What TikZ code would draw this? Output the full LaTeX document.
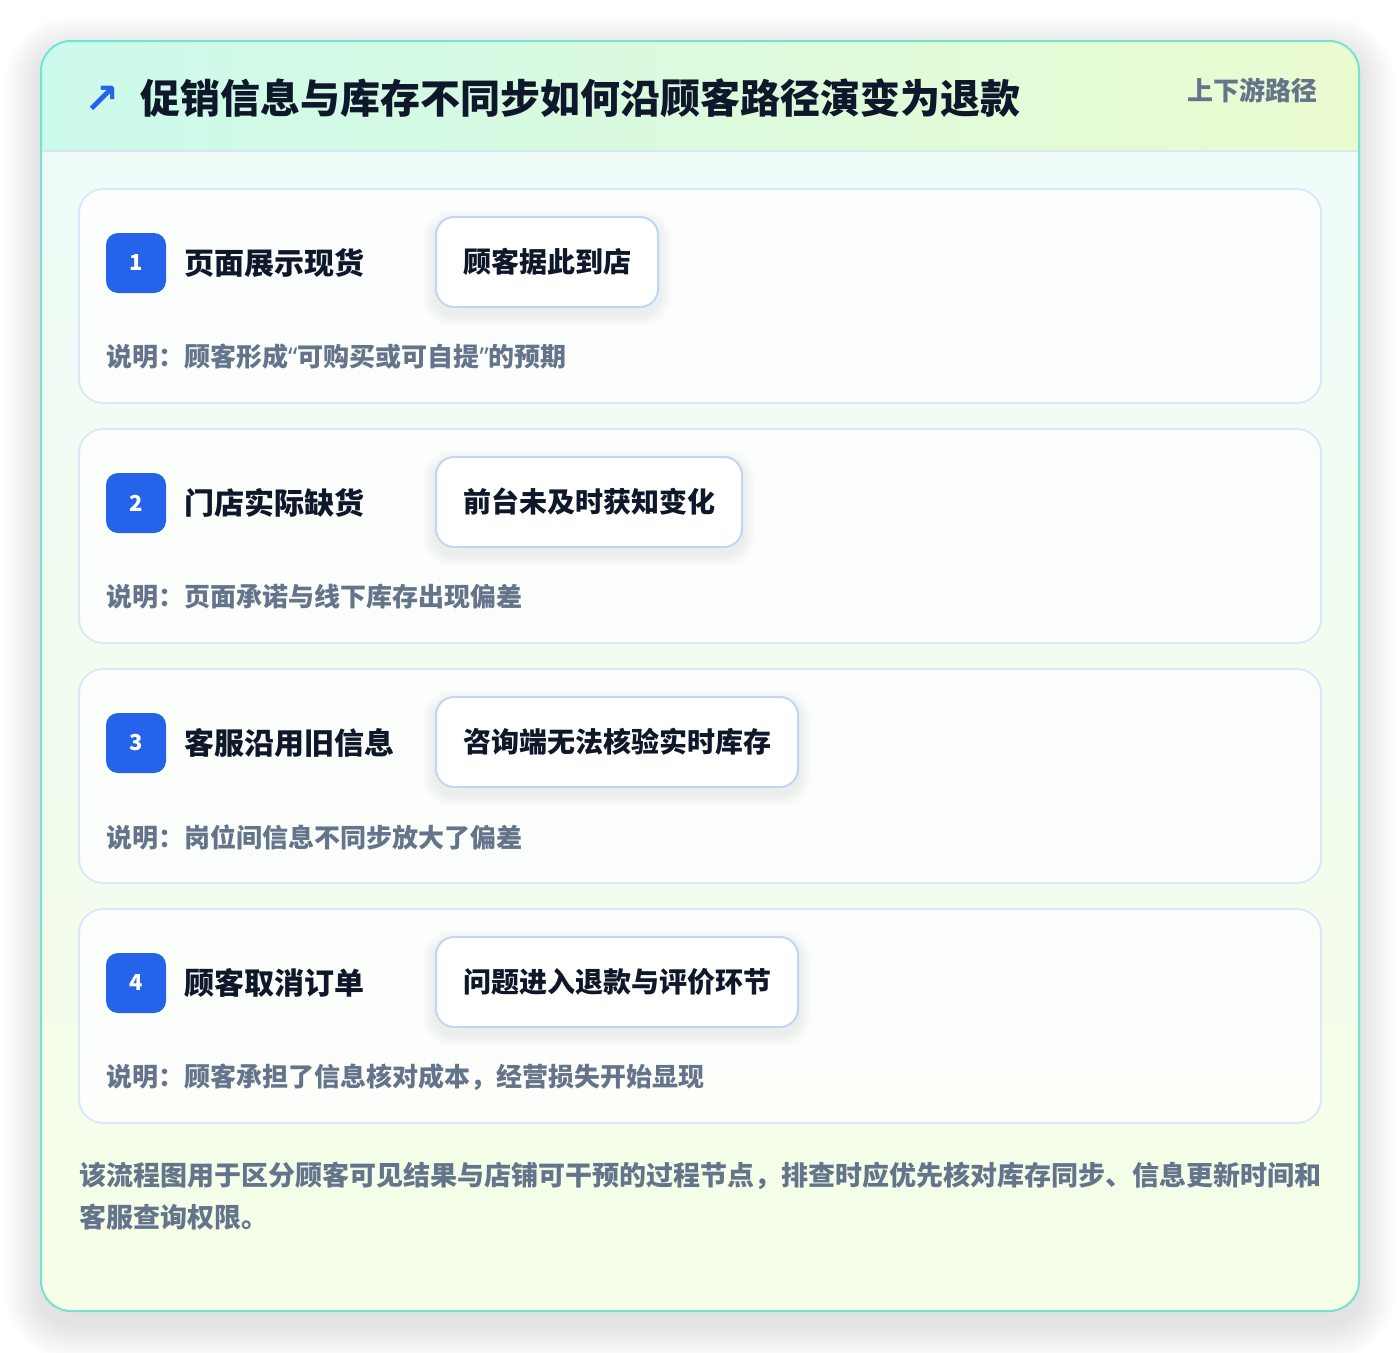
\documentclass[tikz,border=0pt]{standalone}
\usepackage{fontspec}
\setmainfont{Noto Sans CJK SC}
\newfontfamily\dejavu{DejaVu Sans}
\newfontfamily\latinfont{Noto Sans}
\newcommand{\myopenq}{{\latinfont “}}
\newcommand{\myclosq}{{\latinfont ”}}
\definecolor{outerborder}{HTML}{74E4D0}
\definecolor{headerL}{HTML}{CCFAEC}
\definecolor{headerR}{HTML}{EBFBD0}
\definecolor{bodyTop}{HTML}{EFFCF8}
\definecolor{bodyBot}{HTML}{F6FEE7}
\definecolor{headerline}{HTML}{D5E8F3}
\definecolor{cardborder}{HTML}{DBE9FA}
\definecolor{pillborder}{HTML}{BFD6F4}
\definecolor{badgeblue}{HTML}{2563EB}
\definecolor{inkdark}{HTML}{0F172A}
\definecolor{inkgray}{HTML}{64748B}
\tikzset{
  stepcard/.style={draw=cardborder, line width=2pt, fill=white, fill opacity=0.8, draw opacity=1,
    rounded corners=24pt, minimum width=1242pt, minimum height=214pt, inner sep=0pt},
  badge/.style={fill=badgeblue, rounded corners=12pt, minimum width=60pt, minimum height=60pt,
    inner sep=0pt, text=white, font=\fontsize{22}{26}\selectfont\bfseries},
  steptitle/.style={inner sep=0pt, text=inkdark, font=\fontsize{30}{36}\selectfont\bfseries},
  pillbase/.style={line width=2pt, rounded corners=18pt,
    minimum height=90pt, inner xsep=27pt, inner ysep=0pt,
    font=\fontsize{28}{34}\selectfont\bfseries},
  pill/.style={pillbase, draw=pillborder, fill=white, text=inkdark},
  pillghost/.style={pillbase, draw=none, fill=none, text opacity=0},
  notetext/.style={inner sep=0pt, text=inkgray, font=\fontsize{26}{30}\selectfont\bfseries},
}
\begin{document}
\begin{tikzpicture}[x=1pt,y=-1pt]
\useasboundingbox[fill=white] (0,0) rectangle (1400,1352);
% outer card soft shadow
\foreach \k in {1,...,14}{
  \fill[black, opacity=0.0085, rounded corners={30pt+\k*2.6pt}]
    ({41-\k*2.6},{41-\k*2.6+12}) rectangle ({1359+\k*2.6},{1311+\k*2.6+12});
}
\fill[white, rounded corners=30pt] (41,41) rectangle (1359,1311);
\begin{scope}
  \clip[rounded corners=30pt] (41,41) rectangle (1359,1311);
  \shade[top color=bodyTop, bottom color=bodyBot] (41,151) rectangle (1359,1311);
  \shade[left color=headerL, right color=headerR] (41,41) rectangle (1359,151);
  \draw[headerline, line width=1.5pt] (41,151) -- (1359,151);
\end{scope}
\draw[outerborder, line width=2pt, rounded corners=30pt] (41,41) rectangle (1359,1311);
% header
\node[inner sep=0pt, text=badgeblue, font=\fontsize{42}{46}\selectfont\dejavu\bfseries] (icon) at (102,100) {↗};
\node[anchor=west, inner sep=0pt, text=inkdark, font=\fontsize{40}{48}\selectfont\bfseries] (title) at (140,98)
  {促销信息与库存不同步如何沿顾客路径演变为退款};
\node[anchor=east, inner sep=0pt, text=inkgray, font=\fontsize{26}{30}\selectfont\bfseries] (tag) at (1318,90)
  {上下游路径};
% steps
\foreach \i/\t/\p/\n in {
  1/页面展示现货/顾客据此到店/顾客形成\myopenq 可购买或可自提\myclosq 的预期,
  2/门店实际缺货/前台未及时获知变化/页面承诺与线下库存出现偏差,
  3/客服沿用旧信息/咨询端无法核验实时库存/岗位间信息不同步放大了偏差,
  4/顾客取消订单/问题进入退款与评价环节/顾客承担了信息核对成本，经营损失开始显现}{
  \pgfmathsetmacro\cy{189+240*(\i-1)}
  \node[stepcard] (card\i) at (700,\cy+107) {};
  \node[badge] (badge\i) at (136,\cy+74) {\i};
  \node[steptitle, anchor=west] (stitle\i) at (184,\cy+74) {\t};
  \node[pillghost, anchor=west] (ghost\i) at (435,\cy+73) {\p};
  \foreach \k in {1,...,8}{
    \fill[black, opacity=0.009, rounded corners={18pt+\k*1.6pt}]
      ([xshift={-\k*1.6pt}, yshift={\k*1.6pt-6pt}]ghost\i.north west)
      rectangle ([xshift={\k*1.6pt}, yshift={-\k*1.6pt-6pt}]ghost\i.south east);
  }
  \node[pill, anchor=west] (pill\i) at (435,\cy+73) {\p};
  \node[notetext, anchor=west] (note\i) at (106,\cy+168) {说明：\n};
}
% footer
\node[anchor=west, align=left, inner sep=0pt, text=inkgray, font=\fontsize{27}{42}\selectfont\bfseries] (footer) at (79,1196)
  {该流程图用于区分顾客可见结果与店铺可干预的过程节点，排查时应优先核对库存同步、信息更新时间和\\客服查询权限。};
\end{tikzpicture}
\end{document}
